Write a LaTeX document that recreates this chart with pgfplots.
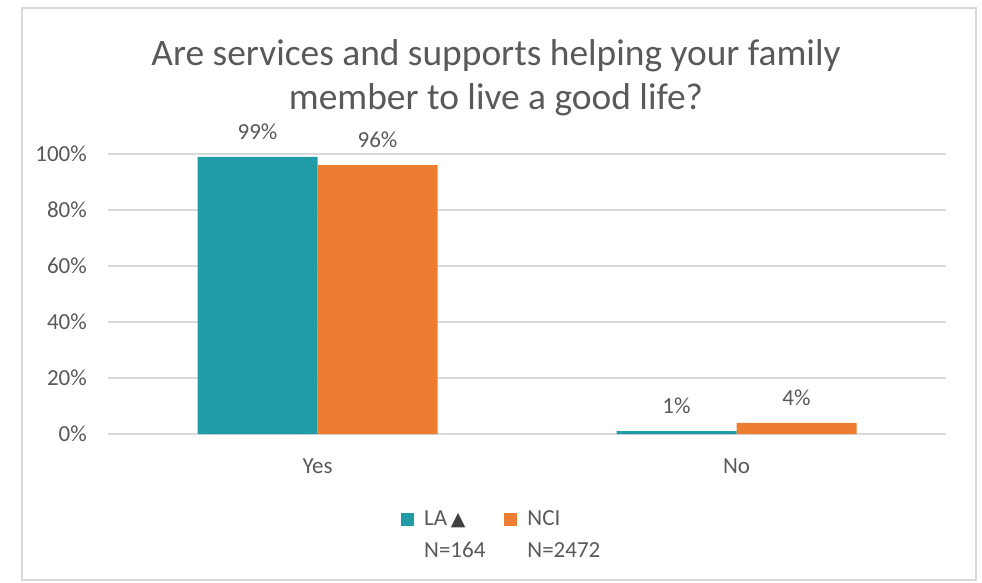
\documentclass[border=0pt]{standalone}
\usepackage{fontspec}
\setmainfont{Carlito}
\newfontfamily\symfont{DejaVu Sans}
\usepackage{pgfplots}
\pgfplotsset{compat=1.18}

\definecolor{laTeal}{RGB}{31,156,166}
\definecolor{nciOrange}{RGB}{237,125,49}
\definecolor{txtGray}{RGB}{89,89,89}
\definecolor{lineGray}{RGB}{217,217,217}

% legend square hangs next to the first line of a two-line entry
\pgfplotsset{
  /pgfplots/ybar legend/.style={
    /pgfplots/legend image code/.code={%
      \path (0pt,0pt);
      \fill[##1] (0pt,-18pt) rectangle (13pt,-5pt);},
  },
}

\begin{document}
\begin{tikzpicture}
  \useasboundingbox (0pt,0pt) rectangle (982pt,582pt);
  \draw[lineGray, line width=1.2pt] (22pt,2pt) rectangle (976pt,574pt);
  \node[anchor=base, text=txtGray, font=\fontsize{37.4}{42}\selectfont, inner sep=0pt]
    at (496pt,516pt) {Are services and supports helping your family};
  \node[anchor=base, text=txtGray, font=\fontsize{37.4}{42}\selectfont, inner sep=0pt]
    at (496pt,472pt) {member to live a good life?};

  \begin{axis}[
    at={(108pt,148pt)}, anchor=south west,
    scale only axis,
    width=838pt, height=280pt,
    xmin=-0.5, xmax=1.5,
    ymin=0, ymax=100,
    clip=false,
    axis line style={draw=none},
    major tick length=0pt,
    ymajorgrids,
    major grid style={lineGray, line width=1.2pt},
    xtick={0,1}, xticklabels={Yes, No},
    ytick={0,20,40,60,80,100},
    yticklabels={0\%,20\%,40\%,60\%,80\%,100\%},
    tick label style={text=txtGray, font=\fontsize{23}{27}\selectfont},
    xticklabel style={anchor=base, yshift=-39pt},
    yticklabel style={anchor=east, inner sep=0pt, xshift=-21pt},
    ybar=0pt, bar width=120pt,
    /pgf/number format/assume math mode=true,
    nodes near coords={\pgfmathprintnumber{\pgfplotspointmeta}\%},
    every node near coord/.append style={text=txtGray,
      font=\fontsize{23}{27}\selectfont, anchor=center, yshift=25pt},
    legend columns=2,
    legend style={at={(0.3496,-0.2645)}, anchor=north west, draw=none, fill=none,
      inner sep=0pt, text=txtGray, font=\fontsize{23}{32}\selectfont,
      cells={anchor=north west, align=left, inner sep=0pt},
      /tikz/every odd column/.append style={column sep=8pt},
      /tikz/every even column/.append style={column sep=17pt}},
  ]
    \addplot[draw=none, fill=laTeal] coordinates {(0,99) (1,1)};
    \addlegendentry{LA\,{\symfont\fontsize{19}{20}\selectfont\color[RGB]{64,64,64}▲}\\N=164}
    \addplot[draw=none, fill=nciOrange] coordinates {(0,96) (1,4)};
    \addlegendentry{NCI\\N=2472}
  \end{axis}
\end{tikzpicture}
\end{document}
